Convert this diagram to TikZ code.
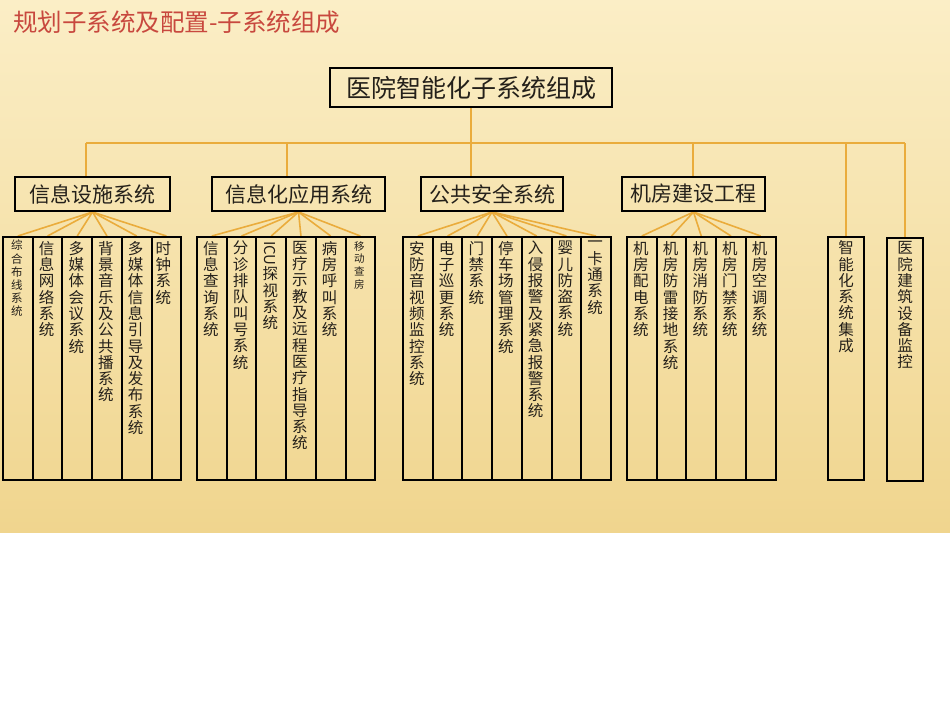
\documentclass[tikz,border=0pt]{standalone}
\usepackage{fontspec}
\setmainfont{Noto Sans CJK SC}
\usepackage{graphicx}
\usetikzlibrary{backgrounds}
\definecolor{bgtop}{RGB}{251,238,198}
\definecolor{bgbot}{RGB}{240,213,142}
\definecolor{connc}{RGB}{234,172,60}
\definecolor{titlered}{RGB}{200,72,62}
\definecolor{ink}{RGB}{36,32,26}
\newcommand{\icutext}{\rotatebox[origin=c]{-90}{\fontsize{15}{15}\selectfont ICU}}
\begin{document}
\begin{tikzpicture}[x=1pt,y=-1pt,
  boxline/.style={draw=black, line width=2pt, inner sep=0pt},
  mainbox/.style={boxline, minimum width=282pt, minimum height=39pt, font=\fontsize{25}{27}\selectfont, text=ink},
  catbox/.style={boxline, minimum height=34pt, font=\fontsize{21}{23}\selectfont, text=ink},
  leafbox/.style={boxline, minimum width=29.7pt, minimum height=243pt},
  sidebox/.style={boxline, minimum width=36pt, minimum height=243pt},
  leaftext/.style={anchor=north, align=center, inner sep=0pt, text=ink, font=\fontsize{15.5}{16.3}\selectfont},
  smalltext/.style={leaftext, font=\fontsize{11.5}{13.2}\selectfont},
  conn/.style={draw=connc, line width=1.6pt}
]
\useasboundingbox (0,0) rectangle (950,713);

% title
\node[anchor=west, inner sep=0pt, text=titlered, font=\fontsize{24.5}{26}\selectfont] (title) at (13,22) {规划子系统及配置-子系统组成};

% main and category boxes
\node[mainbox] (main) at (471,87.5) {医院智能化子系统组成};
\node[catbox, minimum width=155pt] (c1) at (92.5,194) {信息设施系统};
\node[catbox, minimum width=173pt] (c2) at (298.5,194) {信息化应用系统};
\node[catbox, minimum width=142pt] (c3) at (492,194) {公共安全系统};
\node[catbox, minimum width=143pt] (c4) at (693.5,194) {机房建设工程};

% group 1 leaves
\node[leafbox] (a1) at (17.85,358.5) {};
\node[leafbox] (a2) at (47.55,358.5) {};
\node[leafbox] (a3) at (77.25,358.5) {};
\node[leafbox] (a4) at (106.95,358.5) {};
\node[leafbox] (a5) at (136.65,358.5) {};
\node[leafbox] (a6) at (166.35,358.5) {};
\node[smalltext] (ta1) at ([xshift=-1pt,yshift=-4pt]a1.north) {综\\合\\布\\线\\系\\统};
\node[leaftext] (ta2) at ([xshift=-1pt,yshift=-5pt]a2.north) {信\\息\\网\\络\\系\\统};
\node[leaftext] (ta3) at ([xshift=-1pt,yshift=-5pt]a3.north) {多\\媒\\体\\会\\议\\系\\统};
\node[leaftext] (ta4) at ([xshift=-1pt,yshift=-5pt]a4.north) {背\\景\\音\\乐\\及\\公\\共\\播\\系\\统};
\node[leaftext] (ta5) at ([xshift=-1pt,yshift=-5pt]a5.north) {多\\媒\\体\\信\\息\\引\\导\\及\\发\\布\\系\\统};
\node[leaftext] (ta6) at ([xshift=-3pt,yshift=-5pt]a6.north) {时\\钟\\系\\统};

% group 2 leaves
\node[leafbox] (b1) at (211.85,358.5) {};
\node[leafbox] (b2) at (241.55,358.5) {};
\node[leafbox] (b3) at (271.25,358.5) {};
\node[leafbox] (b4) at (300.95,358.5) {};
\node[leafbox] (b5) at (330.65,358.5) {};
\node[leafbox] (b6) at (360.35,358.5) {};
\node[leaftext] (tb1) at ([xshift=-1pt,yshift=-5pt]b1.north) {信\\息\\查\\询\\系\\统};
\node[leaftext] (tb2) at ([xshift=-1pt,yshift=-5pt]b2.north) {分\\诊\\排\\队\\叫\\号\\系\\统};
\node[leaftext] (tb3) at ([xshift=-1pt,yshift=-5pt]b3.north) {\icutext\\探\\视\\系\\统};
\node[leaftext] (tb4) at ([xshift=-1pt,yshift=-5pt]b4.north) {医\\疗\\示\\教\\及\\远\\程\\医\\疗\\指\\导\\系\\统};
\node[leaftext] (tb5) at ([xshift=-1pt,yshift=-5pt]b5.north) {病\\房\\呼\\叫\\系\\统};
\node[smalltext, font=\fontsize{10.5}{12.7}\selectfont] (tb6) at ([xshift=-1pt,yshift=-5pt]b6.north) {移\\动\\查\\房};

% group 3 leaves
\node[leafbox] (p1) at (417.85,358.5) {};
\node[leafbox] (p2) at (447.55,358.5) {};
\node[leafbox] (p3) at (477.25,358.5) {};
\node[leafbox] (p4) at (506.95,358.5) {};
\node[leafbox] (p5) at (536.65,358.5) {};
\node[leafbox] (p6) at (566.35,358.5) {};
\node[leafbox] (p7) at (596.05,358.5) {};
\node[leaftext] (tp1) at ([xshift=-1pt,yshift=-5pt]p1.north) {安\\防\\音\\视\\频\\监\\控\\系\\统};
\node[leaftext] (tp2) at ([xshift=-1pt,yshift=-5pt]p2.north) {电\\子\\巡\\更\\系\\统};
\node[leaftext] (tp3) at ([xshift=-1pt,yshift=-5pt]p3.north) {门\\禁\\系\\统};
\node[leaftext] (tp4) at ([xshift=-1pt,yshift=-5pt]p4.north) {停\\车\\场\\管\\理\\系\\统};
\node[leaftext] (tp5) at ([xshift=-1pt,yshift=-5pt]p5.north) {入\\侵\\报\\警\\及\\紧\\急\\报\\警\\系\\统};
\node[leaftext] (tp6) at ([xshift=-1pt,yshift=-5pt]p6.north) {婴\\儿\\防\\盗\\系\\统};
\node[leaftext] (tp7) at ([xshift=-1pt,yshift=-5pt]p7.north) {一\\卡\\通\\系\\统};

% group 4 leaves
\node[leafbox] (r1) at (641.85,358.5) {};
\node[leafbox] (r2) at (671.55,358.5) {};
\node[leafbox] (r3) at (701.25,358.5) {};
\node[leafbox] (r4) at (730.95,358.5) {};
\node[leafbox] (r5) at (760.65,358.5) {};
\node[leaftext] (tr1) at ([xshift=-1pt,yshift=-5pt]r1.north) {机\\房\\配\\电\\系\\统};
\node[leaftext] (tr2) at ([xshift=-1pt,yshift=-5pt]r2.north) {机\\房\\防\\雷\\接\\地\\系\\统};
\node[leaftext] (tr3) at ([xshift=-1pt,yshift=-5pt]r3.north) {机\\房\\消\\防\\系\\统};
\node[leaftext] (tr4) at ([xshift=-1pt,yshift=-5pt]r4.north) {机\\房\\门\\禁\\系\\统};
\node[leaftext] (tr5) at ([xshift=-1pt,yshift=-5pt]r5.north) {机\\房\\空\\调\\系\\统};

% standalone boxes
\node[sidebox] (s1) at (846,358) {};
\node[sidebox] (s2) at (905,359) {};
\node[leaftext] (ts1) at ([yshift=-5pt]s1.north) {智\\能\\化\\系\\统\\集\\成};
\node[leaftext] (ts2) at ([yshift=-5pt]s2.north) {医\\院\\建\\筑\\设\\备\\监\\控};

% bus coordinates
\coordinate (busL) at (86,143);
\coordinate (busR) at (905,143);
\coordinate (bus2) at (287,143);
\coordinate (bus4) at (693,143);
\coordinate (bus5) at (846,143);

\begin{scope}[on background layer]
  \fill[white] (0,0) rectangle (950,713);
  \shade[top color=bgtop, bottom color=bgbot] (0,0) rectangle (950,532);
  % trunk and bus
  \draw[conn] (main.south) -- (main.south |- c3.north);
  \draw[conn] (busL) -- (busR);
  \draw[conn] (busL) -- (busL |- c1.north);
  \draw[conn] (bus2) -- (bus2 |- c2.north);
  \draw[conn] (bus4) -- (bus4 |- c4.north);
  \draw[conn] (bus5) -- (s1.north);
  \draw[conn] (busR) -- (s2.north);
  % fans
  \foreach \t in {a1,a2,a3,a4,a5,a6} \draw[conn] (c1.south) -- (\t.north);
  \foreach \t in {b1,b2,b3,b4,b5,b6} \draw[conn] (c2.south) -- (\t.north);
  \foreach \t in {p1,p2,p3,p4,p5,p6,p7} \draw[conn] (c3.south) -- (\t.north);
  \foreach \t in {r1,r2,r3,r4,r5} \draw[conn] (c4.south) -- (\t.north);
\end{scope}
\end{tikzpicture}
\end{document}
